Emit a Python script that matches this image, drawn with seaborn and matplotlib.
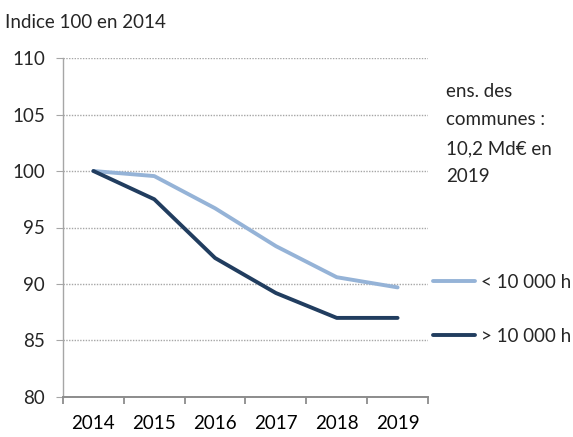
import matplotlib
matplotlib.use("Agg")
import matplotlib.pyplot as plt
import numpy as np
import pandas as pd
import seaborn as sns

# data (index 100 = 2014)
years = ["2014", "2015", "2016", "2017", "2018", "2019"]
small_communes = [100.0, 99.55, 96.7, 93.35, 90.6, 89.7]
large_communes = [100.0, 97.5, 92.3, 89.2, 87.0, 87.0]
series_labels = ["< 10 000 h", "> 10 000 h"]
y_ticks = [80, 85, 90, 95, 100, 105, 110]

title_text = "Indice 100 en 2014"
note_text = "ens. des\ncommunes :\n10,2 Md€ en\n2019"

LIGHT = "#95b3d7"
DARK = "#213d5f"
GRID = "#a6a6a6"
FS = 13.5

df = pd.DataFrame({
    "year": years * 2,
    "value": small_communes + large_communes,
    "group": [series_labels[0]] * len(years) + [series_labels[1]] * len(years),
})

sns.set_theme(style="white")
plt.rcParams["font.family"] = ["Lato", "DejaVu Sans"]
plt.rcParams["font.size"] = FS

fig = plt.figure(figsize=(5.73, 4.37), dpi=100)
ax = fig.add_axes([63 / 573, 1 - 397 / 437, (428 - 63) / 573, (397 - 58) / 437])

sns.lineplot(
    data=df, x="year", y="value", hue="group",
    hue_order=series_labels, palette=[LIGHT, DARK],
    linewidth=2.8, ax=ax, sort=False,
)
for ln in ax.lines:
    ln.set_solid_capstyle("round")
    ln.set_solid_joinstyle("round")

ax.set_xlim(-0.5, len(years) - 0.5)
ax.set_ylim(80, 110)
ax.set_yticks(y_ticks)
ax.set_xticks(range(len(years)))
ax.set_xticklabels(years)
ax.set_xticks(np.arange(-0.5, len(years)), minor=True)
ax.set_xlabel("")
ax.set_ylabel("")

# category axis: tick marks between categories, labels centred
ax.tick_params(axis="x", which="major", length=0, pad=13, labelsize=FS, colors="#000000")
ax.tick_params(axis="x", which="minor", length=5, width=1.3, color="#8c8c8c", direction="out", bottom=True)
ax.tick_params(axis="y", length=5, width=0.8, color=GRID, pad=8, labelsize=FS, left=True)

ax.grid(axis="y", color=GRID, linestyle=(0, (1, 1)), linewidth=1.0)
ax.grid(axis="x", visible=False)
ax.set_axisbelow(True)

for side in ["top", "right"]:
    ax.spines[side].set_visible(False)
ax.spines["bottom"].set_color("#8c8c8c")
ax.spines["bottom"].set_linewidth(1.4)
ax.spines["left"].set_color(GRID)
ax.spines["left"].set_linestyle((0, (1, 1)))
ax.spines["left"].set_linewidth(1.0)

sns.move_legend(
    ax, "upper left",
    bbox_to_anchor=(433 / 573, 1 - 274 / 437), bbox_transform=fig.transFigure,
    frameon=False, title=None, handlelength=2.25, handletextpad=0.3,
    labelspacing=1.97, borderpad=0, borderaxespad=0, fontsize=FS,
)

fig.text(5 / 573, 1 - 22 / 437, title_text, ha="left", va="center", fontsize=FS)
fig.text(446 / 573, 1 - 83 / 437, note_text, ha="left", va="top", fontsize=FS, linespacing=1.82)

fig.savefig("out.png", dpi=100)
